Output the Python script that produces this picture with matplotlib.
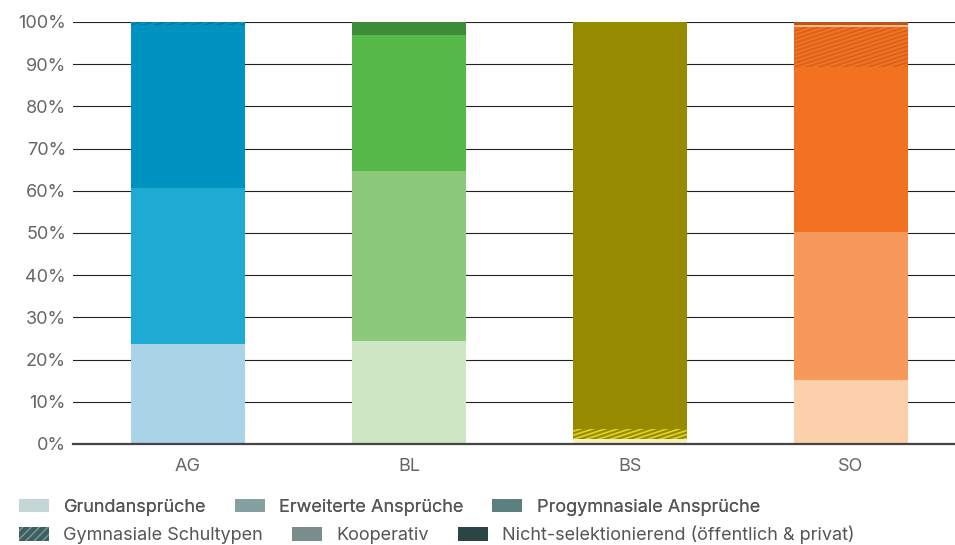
import numpy as np
import matplotlib
matplotlib.use('Agg')
from matplotlib import pyplot as plt
from matplotlib.patches import Patch
from matplotlib.collections import LineCollection

plt.rcParams['font.family'] = ['Inter', 'DejaVu Sans']

cantons = ['AG', 'BL', 'BS', 'SO']
categories = ['Grundansprüche', 'Erweiterte Ansprüche', 'Progymnasiale Ansprüche',
              'Gymnasiale Schultypen', 'Kooperativ', 'Nicht-selektionierend (öffentlich & privat)']

# shares in percent per canton
grund = [23.7, 24.4, 1.1, 15.2]
erweitert = [37.0, 40.3, 0.0, 35.0]
progymn = [38.6, 32.2, 0.0, 39.1]
gymn = [0.7, 0.0, 2.4, 9.6]
koop = [0.0, 0.0, 0.0, 0.3]
nicht = [0.0, 3.1, 96.5, 0.8]
series = [grund, erweitert, progymn, gymn, koop, nicht]

# colours per canton, one per category
colors = {
    'AG': ['#a9d3e6', '#1eabd3', '#0093c1', '#0093c1', '#5fb8d8', '#0b6a8f'],
    'BL': ['#cee6c4', '#8dc97a', '#56b849', '#56b849', '#a6d79a', '#3d8c37'],
    'BS': ['#f6efbd', '#c9bd2a', '#b0a400', '#968b00', '#d8cf66', '#968b00'],
    'SO': ['#fdd0ac', '#f7995a', '#f37221', '#f37221', '#f8b585', '#b5561c'],
}
hatch_colors = {'AG': '#15709a', 'BL': '#2f7a2a', 'BS': '#e2d51a', 'SO': '#d4611c'}

legend_colors = ['#c4d7d7', '#85a0a0', '#5c8080', '#3d5f5f', '#7a8c8c', '#2b4545']

fig = plt.figure(figsize=(9.55, 5.45), dpi=100)
ax = fig.add_axes([73/955, 101/545, 882/955, 422/545])

x = np.arange(len(cantons))
width = 0.516
ax.set_xlim(-0.52, 3.47)
ax.set_ylim(0, 100)

# hatch geometry in data units (shallow diagonal stripes)
slope = np.tan(np.radians(18)) * 221 / 4.22
spacing = 0.95

bottom = np.zeros(len(cantons))
for j, vals in enumerate(series):
    vals = np.array(vals)
    for i, c in enumerate(cantons):
        if vals[i] <= 0:
            continue
        bar = ax.bar(x[i], vals[i], width, bottom=bottom[i], color=colors[c][j],
                     linewidth=0, zorder=2)[0]
        if j == 3:
            x0 = x[i] - width / 2
            x1 = x[i] + width / 2
            b = bottom[i]
            h = vals[i]
            n0 = -int(np.ceil(slope * width / spacing)) - 1
            n1 = int(np.ceil(h / spacing)) + 1
            segs = [[(x0, b + k * spacing), (x1, b + k * spacing + slope * width)]
                    for k in range(n0, n1)]
            lc = LineCollection(segs, colors=hatch_colors[c], linewidths=1.2, zorder=3)
            ax.add_collection(lc, autolim=False)
            lc.set_clip_path(bar)
    bottom += vals

ax.set_yticks(np.arange(0, 101, 10))
ax.set_yticklabels([f'{v}%' for v in range(0, 101, 10)])
ax.set_xticks(x)
ax.set_xticklabels(cantons)
ax.tick_params(axis='both', length=0, labelsize=13, labelcolor='#666666')
ax.tick_params(axis='y', pad=5)
ax.tick_params(axis='x', pad=10)
ax.yaxis.grid(True, color='#222222', linewidth=0.8, zorder=0)
ax.set_axisbelow(True)
for s in ['top', 'right', 'left']:
    ax.spines[s].set_visible(False)
ax.spines['bottom'].set_color('#444444')
ax.spines['bottom'].set_linewidth(1.6)
ax.spines['bottom'].set_zorder(4)

handles = []
for j, cat in enumerate(categories):
    if j == 3:
        handles.append(Patch(facecolor=legend_colors[j], edgecolor='#7d9a9a', hatch='////',
                             linewidth=0, label=cat))
    else:
        handles.append(Patch(facecolor=legend_colors[j], linewidth=0, label=cat))

leg_kw = dict(loc='center left', frameon=False, ncol=3, fontsize=13, borderpad=0,
              borderaxespad=0, handlelength=1.66, handleheight=0.75, handletextpad=0.8,
              columnspacing=1.6, labelcolor='#555555')
leg1 = fig.legend(handles=handles[:3], bbox_to_anchor=(19/955, 38/545), **leg_kw)
fig.add_artist(leg1)
fig.legend(handles=handles[3:], bbox_to_anchor=(19/955, 10/545), **leg_kw)

fig.savefig('out.png', dpi=100)
